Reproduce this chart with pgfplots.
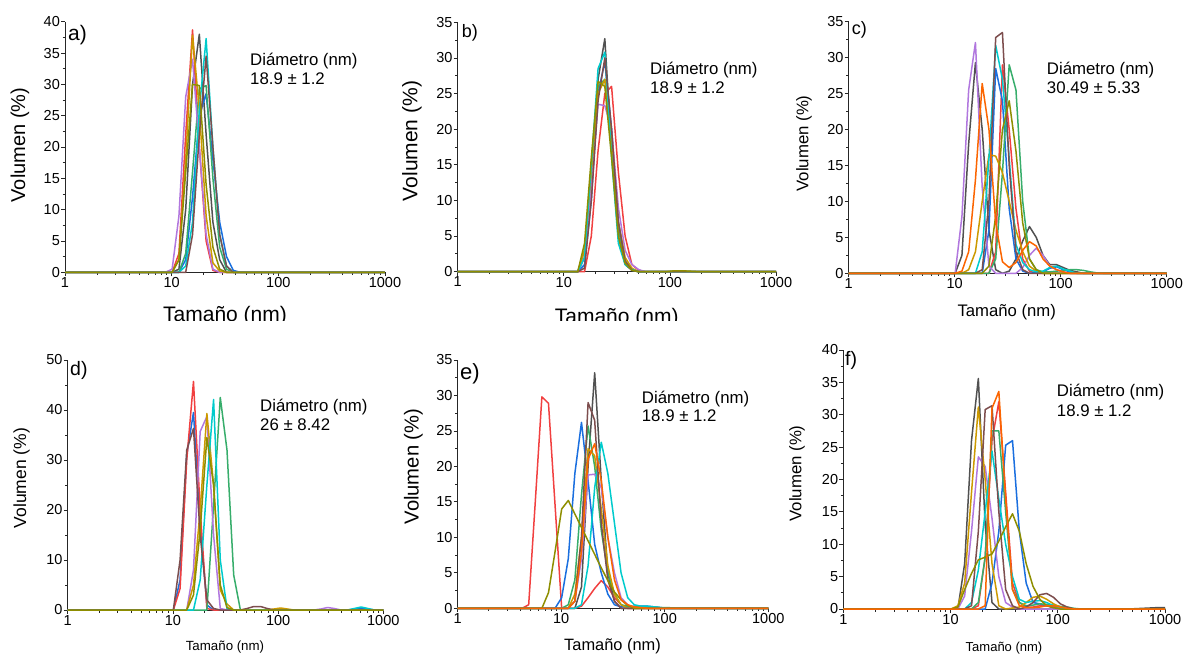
\documentclass[border=0pt]{standalone}
\usepackage{fontspec}
\setmainfont{Liberation Sans}
\usepackage{pgfplots}
\pgfplotsset{compat=1.18}
\definecolor{cGray}{HTML}{515151}
\definecolor{cRed}{HTML}{F14040}
\definecolor{cBlue}{HTML}{1A6FDF}
\definecolor{cGreen}{HTML}{37AD6B}
\definecolor{cPurple}{HTML}{B177DE}
\definecolor{cGold}{HTML}{CC9900}
\definecolor{cCyan}{HTML}{00CBCC}
\definecolor{cBrown}{HTML}{7D4E4E}
\definecolor{cOlive}{HTML}{8E8E00}
\definecolor{cOrange}{HTML}{FB6501}
\newcommand{\fs}[1]{\fontsize{#1}{#1}\selectfont}
\pgfkeys{/pgf/number format/assume math mode=true}
\pgfplotsset{
  every axis/.append style={
    xmode=log, xmin=1, xmax=1000, ymin=0,
    axis lines=left, axis line style={-, line width=0.9pt, black!85},
    scale only axis, clip=false, anchor=south west,
    xtick={1,10,100,1000}, xticklabels={1,10,100,1000},
    minor xtick={2,3,4,5,6,7,8,9,20,30,40,50,60,70,80,90,200,300,400,500,600,700,800,900},
    tick align=outside, major tick length=4pt, minor tick length=2.5pt,
    tick style={black!85, line width=0.8pt},
    tick label style={font=\fs{14.5}},
    yticklabel style={inner sep=1pt},
    xticklabel style={inner sep=1pt},
  },
  every axis plot/.append style={line width=1.5pt, line join=round, mark=none},
}
\begin{document}
\begin{tikzpicture}
\path[use as bounding box] (0pt,0pt) rectangle (1184pt,654pt);
% ---------------- a ----------------
\begin{axis}[at={(65pt,381.7pt)}, width=320pt, height=250.6pt, ymax=40, ytick={0,5,...,40}, minor y tick num=1]
\addplot[cGray] coordinates {(1,0)(10.10,0)(11.70,0.5)(13.54,10)(15.69,30)(18.17,38)(21.04,22)(24.36,8)(28.21,2)(32.67,0)(1000,0)};
\addplot[cRed] coordinates {(1,0)(10.10,0)(11.70,3)(13.54,22)(15.69,38.7)(18.17,20)(21.04,5)(24.36,0.3)(28.21,0)(1000,0)};
\addplot[cBlue] coordinates {(1,0)(11.70,0)(13.54,2)(15.69,12)(18.17,25)(21.04,28.5)(24.36,18)(28.21,8)(32.67,2.5)(37.84,0.3)(43.82,0)(1000,0)};
\addplot[cGreen] coordinates {(1,0)(11.70,0)(13.54,3)(15.69,16)(18.17,29.3)(21.04,29.8)(24.36,15)(28.21,4)(32.67,0.5)(37.84,0)(1000,0)};
\addplot[cPurple] coordinates {(1,0)(8.721,0)(10.10,0.5)(11.70,9)(13.54,28)(15.69,34)(18.17,20)(21.04,6)(24.36,0.5)(28.21,0)(1000,0)};
\addplot[cGold] coordinates {(1,0)(10.10,0)(11.70,2)(13.54,18)(15.69,37.8)(18.17,26)(21.04,9)(24.36,1.5)(28.21,0.2)(32.67,0)(1000,0)};
\addplot[cCyan] coordinates {(1,0)(11.70,0)(13.54,1)(15.69,8)(18.17,26)(21.04,37.3)(24.36,20)(28.21,6)(32.67,1)(37.84,0)(1000,0)};
\addplot[cBrown] coordinates {(1,0)(13.54,0)(15.69,6)(18.17,22)(21.04,34.5)(24.36,20)(28.21,6)(32.67,1)(37.84,0)(1000,0)};
\addplot[cOlive] coordinates {(1,0)(10.10,0)(11.70,2)(13.54,16)(15.69,30)(18.17,29.8)(21.04,14)(24.36,4)(28.21,0.5)(32.67,0)(1000,0)};
\end{axis}
% ---------------- b ----------------
\begin{axis}[at={(457.7pt,382.3pt)}, width=318.3pt, height=249.4pt, ymax=35, ytick={0,5,...,35}, minor y tick num=1]
\addplot[cGray] coordinates {(1,0)(13.54,0)(15.69,2)(18.17,12)(21.04,27)(24.36,32.7)(28.21,17)(32.67,5)(37.84,1)(43.82,0.2)(50.75,0)(1000,0)};
\addplot[cRed] coordinates {(1,0)(15.69,0)(18.17,5)(21.04,17)(24.36,25)(28.21,26)(32.67,14)(37.84,5)(43.82,1)(50.75,0.2)(58.77,0)(1000,0)};
\addplot[cBlue] coordinates {(1,0)(13.54,0)(15.69,1)(18.17,10)(21.04,25)(24.36,29.5)(28.21,20)(32.67,7)(37.84,1.5)(43.82,0.3)(50.75,0)(1000,0)};
\addplot[cGreen] coordinates {(1,0)(13.54,0)(15.69,3)(18.17,14)(21.04,26)(24.36,27)(28.21,18)(32.67,6)(37.84,1.5)(43.82,0.2)(50.75,0)(1000,0)};
\addplot[cPurple] coordinates {(1,0)(13.54,0)(15.69,2)(18.17,12)(21.04,23.5)(24.36,23.3)(28.21,20)(32.67,9)(37.84,3)(43.82,1)(50.75,0.3)(58.77,0)(1000,0)};
\addplot[cGold] coordinates {(1,0)(13.54,0)(15.69,3)(18.17,14)(21.04,25)(24.36,27)(28.21,19)(32.67,7)(37.84,2)(43.82,0.5)(50.75,0)(1000,0)};
\addplot[cCyan] coordinates {(1,0)(13.54,0)(15.69,2)(18.17,15)(21.04,28.5)(24.36,30.8)(28.21,16)(32.67,4)(37.84,1)(43.82,0.3)(50.75,0)(1000,0)};
\addplot[cBrown] coordinates {(1,0)(13.54,0)(15.69,0.5)(18.17,10)(21.04,24)(24.36,30)(28.21,20)(32.67,7)(37.84,1.5)(43.82,0.2)(50.75,0)(1000,0)};
\addplot[cOlive] coordinates {(1,0)(13.54,0)(15.69,4)(18.17,16)(21.04,26.7)(24.36,26)(28.21,16)(32.67,5)(37.84,1.2)(43.82,0.2)(50.75,0)(91.28,0)(105.7,0.1)(141.8,0.1)(190.1,0)(1000,0)};
\end{axis}
% ---------------- c ----------------
\begin{axis}[at={(848.7pt,380.7pt)}, width=318pt, height=251.6pt, ymax=35, ytick={0,5,...,35}, minor y tick num=1]
\addplot[cGray] coordinates {(1,0)(10.10,0)(11.70,2.5)(13.54,18)(15.69,29.3)(18.17,20)(21.04,6)(24.36,0.5)(28.21,0)(32.67,0.3)(37.84,2)(43.82,4.5)(50.75,6.5)(58.77,5)(68.06,2.5)(78.82,1.2)(91.28,1.2)(105.7,0.8)(122.4,0.4)(141.8,0.2)(164.2,0)(1000,0)};
\addplot[cRed] coordinates {(1,0)(21.04,0)(24.36,3)(28.21,29)(32.67,20)(37.84,9)(43.82,2)(50.75,0.3)(58.77,0)(1000,0)};
\addplot[cBlue] coordinates {(1,0)(18.17,0)(21.04,6)(24.36,28.5)(28.21,24)(32.67,9)(37.84,2)(43.82,0.3)(50.75,0)(68.06,0.2)(78.82,0.7)(91.28,0.9)(105.7,0.5)(122.4,0.2)(141.8,0)(1000,0)};
\addplot[cGreen] coordinates {(1,0)(21.04,0)(24.36,2)(28.21,14)(32.67,29)(37.84,25.5)(43.82,10)(50.75,2)(58.77,0.5)(68.06,0.2)(78.82,0.2)(91.28,0.3)(105.7,0.4)(122.4,0.5)(141.8,0.5)(164.2,0.4)(190.1,0.2)(220.2,0.05)(255,0)(1000,0)};
\addplot[cPurple] coordinates {(1,0)(10.10,0)(11.70,7.9)(13.54,25.5)(15.69,32.1)(18.17,12)(21.04,1)(24.36,0)(37.84,0)(43.82,0.8)(50.75,2.5)(58.77,3.5)(68.06,2.5)(78.82,1)(91.28,0.5)(105.7,0.2)(122.4,0)(1000,0)};
\addplot[cGold] coordinates {(1,0)(11.70,0)(13.54,0.5)(15.69,3)(18.17,10)(21.04,16.5)(24.36,16.3)(28.21,14)(32.67,10)(37.84,6)(43.82,3)(50.75,1)(58.77,0.3)(68.06,0)(1000,0)};
\addplot[cCyan] coordinates {(1,0)(15.69,0)(18.17,3)(21.04,16)(24.36,31.7)(28.21,27)(32.67,16)(37.84,4)(43.82,1.5)(50.75,0.5)(58.77,0.2)(68.06,0.3)(78.82,0.8)(91.28,1)(105.7,0.6)(122.4,0.3)(141.8,0)(1000,0)};
\addplot[cBrown] coordinates {(1,0)(15.69,0)(18.17,0.5)(21.04,10)(24.36,32.8)(28.21,33.5)(32.67,15)(37.84,3)(43.82,0.5)(50.75,0)(1000,0)};
\addplot[cOlive] coordinates {(1,0)(18.17,0)(21.04,1)(24.36,8)(28.21,20)(32.67,24)(37.84,17)(43.82,7)(50.75,2)(58.77,0.5)(68.06,0)(1000,0)};
\addplot[cOrange] coordinates {(1,0)(10.10,0)(11.70,0.3)(13.54,3)(15.69,13)(18.17,26.4)(21.04,20)(24.36,7)(28.21,1.6)(32.67,0.8)(37.84,1.5)(43.82,3.2)(50.75,4.4)(58.77,3.8)(68.06,2)(78.82,1)(91.28,0.5)(105.7,0.2)(122.4,0)(1000,0)};
\end{axis}
% ---------------- d ----------------
\begin{axis}[at={(67.7pt,44pt)}, width=315.6pt, height=250pt, ymax=50, ytick={0,10,...,50}, minor y tick num=1]
\addplot[cBlue] coordinates {(1,0)(10.10,0)(11.70,6)(13.54,31)(15.69,39.5)(18.17,17)(21.04,1)(24.36,0)(458.7,0)(531.2,0.2)(615.1,0.4)(712.4,0.2)(825,0)(1000,0)};
\addplot[cRed] coordinates {(1,0)(10.10,0)(11.70,4.3)(13.54,30)(15.69,45.7)(18.17,20)(21.04,0.3)(24.36,0)(1000,0)};
\addplot[cGreen] coordinates {(1,0)(21.04,0)(24.36,21)(28.21,42.5)(32.67,32)(37.84,7)(43.82,0)(1000,0)};
\addplot[cPurple] coordinates {(1,0)(13.54,0)(15.69,8)(18.17,35.7)(21.04,38.7)(24.36,15)(28.21,0.3)(32.67,0)(220.2,0)(255,0.2)(295.3,0.5)(342,0.3)(396.1,0)(1000,0)};
\addplot[cGold] coordinates {(1,0)(13.54,0)(15.69,5)(18.17,20)(21.04,39.3)(24.36,25)(28.21,4)(32.67,1.2)(37.84,0)(78.82,0)(91.28,0.2)(105.7,0.4)(122.4,0.2)(141.8,0)(1000,0)};
\addplot[cCyan] coordinates {(1,0)(15.69,0)(18.17,6)(21.04,25)(24.36,42.1)(28.21,10)(32.67,0.3)(37.84,0)(458.7,0)(531.2,0.3)(615.1,0.6)(712.4,0.3)(825,0)(1000,0)};
\addplot[cBrown] coordinates {(1,0)(10.10,0)(11.70,10)(13.54,32)(15.69,36.3)(18.17,15)(21.04,2)(24.36,0.3)(28.21,0)(43.82,0)(50.75,0.3)(58.77,0.7)(68.06,0.7)(78.82,0.3)(91.28,0)(1000,0)};
\addplot[cOlive] coordinates {(1,0)(13.54,0)(15.69,3)(18.17,16)(21.04,34.5)(24.36,25)(28.21,5)(32.67,0.5)(37.84,0)(1000,0)};
\end{axis}
% ---------------- e ----------------
\begin{axis}[at={(457.7pt,45.7pt)}, width=310.6pt, height=248.3pt, ymax=35, ytick={0,5,...,35}, minor y tick num=1]
\addplot[cGray] coordinates {(1,0)(13.54,0)(15.69,3)(18.17,20)(21.04,33.2)(24.36,18)(28.21,5)(32.67,1)(37.84,0)(1000,0)};
\addplot[cRed] coordinates {(1,0)(4.187,0)(4.849,0.5)(5.615,15)(6.503,29.8)(7.531,28.9)(8.721,14.5)(10.10,0)(13.54,0)(15.69,0.3)(18.17,1.5)(21.04,2.8)(24.36,3.9)(28.21,3)(32.67,1.5)(37.84,0.5)(43.82,0)(1000,0)};
\addplot[cBlue] coordinates {(1,0)(8.721,0)(10.10,1.5)(11.70,7)(13.54,19)(15.69,26.2)(18.17,18)(21.04,9)(24.36,5)(28.21,2)(32.67,0.5)(37.84,0.2)(43.82,0.2)(50.75,0.3)(58.77,0.3)(68.06,0.3)(78.82,0.2)(91.28,0.1)(105.7,0)(1000,0)};
\addplot[cGreen] coordinates {(1,0)(10.10,0)(11.70,0.5)(13.54,4)(15.69,16)(18.17,25.7)(21.04,20)(24.36,11)(28.21,5)(32.67,2)(37.84,0.5)(43.82,0.3)(50.75,0.2)(58.77,0.2)(68.06,0.2)(78.82,0.15)(91.28,0.1)(105.7,0.1)(122.4,0.05)(141.8,0)(1000,0)};
\addplot[cPurple] coordinates {(1,0)(11.70,0)(13.54,1)(15.69,7)(18.17,18.8)(21.04,18.9)(24.36,17)(28.21,10)(32.67,5)(37.84,1.5)(43.82,0.5)(50.75,0)(1000,0)};
\addplot[cGold] coordinates {(1,0)(11.70,0)(13.54,2)(15.69,10)(18.17,22.5)(21.04,21.5)(24.36,14)(28.21,6)(32.67,2)(37.84,0.5)(43.82,0)(1000,0)};
\addplot[cCyan] coordinates {(1,0)(13.54,0)(15.69,0.5)(18.17,6)(21.04,17)(24.36,23.4)(28.21,19)(32.67,12)(37.84,5)(43.82,1.5)(50.75,0.5)(58.77,0.3)(68.06,0.3)(78.82,0.2)(91.28,0.1)(105.7,0)(1000,0)};
\addplot[cBrown] coordinates {(1,0)(11.70,0)(13.54,1)(15.69,10)(18.17,29)(21.04,26.5)(24.36,12)(28.21,4)(32.67,1)(37.84,0)(1000,0)};
\addplot[cOlive] coordinates {(1,0)(6.503,0)(7.531,2.2)(8.721,8)(10.10,14)(11.70,15.2)(13.54,13.3)(15.69,11.4)(18.17,9.5)(21.04,7.6)(24.36,5.7)(28.21,3.9)(32.67,2.3)(37.84,1.2)(43.82,0.4)(50.75,0)(1000,0)};
\addplot[cOrange] coordinates {(1,0)(11.70,0)(13.54,1)(15.69,8)(18.17,21)(21.04,23.2)(24.36,18)(28.21,10)(32.67,4)(37.84,1.2)(43.82,0.5)(50.75,0.2)(58.77,0.1)(68.06,0)(1000,0)};
\end{axis}
% ---------------- f ----------------
\begin{axis}[at={(843.3pt,45pt)}, width=321.7pt, height=259pt, ymax=40, ytick={0,5,...,40}, minor y tick num=1]
\addplot[cGray] coordinates {(1,0)(11.70,0)(13.54,7)(15.69,26)(18.17,35.6)(21.04,13)(24.36,1)(28.21,0)(458.7,0)(615.1,0.1)(825,0.2)(1000,0.2)};
\addplot[cRed] coordinates {(1,0)(15.69,0)(18.17,0.5)(21.04,8)(24.36,26)(28.21,32)(32.67,18)(37.84,4)(43.82,1)(50.75,0.3)(58.77,0.3)(68.06,0.5)(78.82,0.5)(91.28,0.4)(105.7,0.2)(122.4,0)(1000,0)};
\addplot[cBlue] coordinates {(1,0)(21.04,0)(24.36,4)(28.21,12)(32.67,25.3)(37.84,26)(43.82,12)(50.75,4)(58.77,1)(68.06,0.8)(78.82,0.5)(91.28,0.2)(105.7,0)(1000,0)};
\addplot[cGreen] coordinates {(1,0)(15.69,0)(18.17,1)(21.04,8)(24.36,27.5)(28.21,27.5)(32.67,15)(37.84,3)(43.82,1)(50.75,0.5)(58.77,0.6)(68.06,0.8)(78.82,0.7)(91.28,0.6)(105.7,0.4)(122.4,0.3)(141.8,0.1)(164.2,0)(1000,0)};
\addplot[cPurple] coordinates {(1,0)(11.70,0)(13.54,2)(15.69,12)(18.17,23.5)(21.04,22)(24.36,14)(28.21,5)(32.67,1)(37.84,0.3)(43.82,0)(1000,0)};
\addplot[cGold] coordinates {(1,0)(10.10,0)(11.70,0.5)(13.54,4)(15.69,18)(18.17,31.2)(21.04,20)(24.36,7)(28.21,0.5)(32.67,0)(43.82,0.3)(50.75,1)(58.77,1.8)(68.06,2)(78.82,1.5)(91.28,0.8)(105.7,0.3)(122.4,0)(1000,0)};
\addplot[cCyan] coordinates {(1,0)(13.54,0)(15.69,1)(18.17,6)(21.04,15)(24.36,24.4)(28.21,17)(32.67,10)(37.84,5)(43.82,1.5)(50.75,1)(58.77,1.2)(68.06,1.3)(78.82,1)(91.28,0.5)(105.7,0.2)(122.4,0)(1000,0)};
\addplot[cBrown] coordinates {(1,0)(13.54,0)(15.69,0.5)(18.17,12)(21.04,30.8)(24.36,31.4)(28.21,15)(32.67,3)(37.84,0.5)(43.82,0)(50.75,0.3)(58.77,1)(68.06,2.2)(78.82,2.4)(91.28,1.8)(105.7,0.8)(122.4,0.3)(141.8,0)(1000,0)};
\addplot[cOlive] coordinates {(1,0)(10.10,0)(11.70,0.3)(13.54,3)(15.69,5.5)(18.17,7.6)(21.04,8)(24.36,8.5)(28.21,10.5)(32.67,12.7)(37.84,14.7)(43.82,12)(50.75,7)(58.77,3.5)(68.06,1.5)(78.82,0.5)(91.28,0.2)(105.7,0)(1000,0)};
\addplot[cOrange] coordinates {(1,0)(18.17,0)(21.04,0.5)(24.36,31)(28.21,33.6)(32.67,17)(37.84,3)(43.82,0.5)(50.75,0.2)(58.77,0.2)(68.06,0.3)(78.82,0.5)(91.28,0.5)(105.7,0.3)(122.4,0.1)(141.8,0)(1000,0)};
\end{axis}
% ---------------- labels ----------------
\begin{scope}
\clip (0pt,333pt) rectangle (1184pt,400pt);
\node[font=\fs{21}, anchor=base, inner sep=0] at (225pt,332pt) {Tamaño (nm)};
\node[font=\fs{21}, anchor=base, inner sep=0] at (616.7pt,330.7pt) {Tamaño (nm)};
\end{scope}
\node[font=\fs{16.7}, anchor=base, inner sep=0] at (1006.7pt,337pt) {Tamaño (nm)};
\node[font=\fs{13.3}, anchor=base, inner sep=0] at (225pt,3.5pt) {Tamaño (nm)};
\node[font=\fs{16.4}, anchor=base, inner sep=0] at (612.5pt,3.6pt) {Tamaño (nm)};
\node[font=\fs{13}, anchor=base, inner sep=0] at (1004pt,3pt) {Tamaño (nm)};
\node[font=\fs{20}, rotate=90, inner sep=0] at (20pt,509pt) {Volumen (\%)};
\node[font=\fs{21}, rotate=90, inner sep=0] at (412pt,513pt) {Volumen (\%)};
\node[font=\fs{16.8}, rotate=90, inner sep=0] at (804pt,510.5pt) {Volumen (\%)};
\node[font=\fs{17.5}, rotate=90, inner sep=0] at (21.5pt,176pt) {Volumen (\%)};
\node[font=\fs{20.2}, rotate=90, inner sep=0] at (413.5pt,187.5pt) {Volumen (\%)};
\node[font=\fs{16.8}, rotate=90, inner sep=0] at (797pt,180.5pt) {Volumen (\%)};
\node[font=\fs{21}, anchor=west, inner sep=0] at (68pt,619pt) {a)};
\node[font=\fs{18}, anchor=west, inner sep=0] at (461.7pt,621.5pt) {b)};
\node[font=\fs{18}, anchor=west, inner sep=0] at (851.7pt,624.5pt) {c)};
\node[font=\fs{19.5}, anchor=west, inner sep=0] at (70pt,284pt) {d)};
\node[font=\fs{22}, anchor=west, inner sep=0] at (460pt,280pt) {e)};
\node[font=\fs{19.5}, anchor=west, inner sep=0] at (845pt,294pt) {f)};
\node[font=\fs{16.8}, anchor=base west, inner sep=0] at (250pt,588.3pt) {Diámetro (nm)};
\node[font=\fs{16.8}, anchor=base west, inner sep=0] at (250pt,569pt) {18.9 ± 1.2};
\node[font=\fs{16.8}, anchor=base west, inner sep=0] at (650pt,579pt) {Diámetro (nm)};
\node[font=\fs{16.8}, anchor=base west, inner sep=0] at (650pt,560.7pt) {18.9 ± 1.2};
\node[font=\fs{16.8}, anchor=base west, inner sep=0] at (1046.7pt,579pt) {Diámetro (nm)};
\node[font=\fs{16.8}, anchor=base west, inner sep=0] at (1046.7pt,560.7pt) {30.49 ± 5.33};
\node[font=\fs{16.8}, anchor=base west, inner sep=0] at (260pt,242.3pt) {Diámetro (nm)};
\node[font=\fs{16.8}, anchor=base west, inner sep=0] at (260pt,223pt) {26 ± 8.42};
\node[font=\fs{16.8}, anchor=base west, inner sep=0] at (641.7pt,250.7pt) {Diámetro (nm)};
\node[font=\fs{16.8}, anchor=base west, inner sep=0] at (641.7pt,232.3pt) {18.9 ± 1.2};
\node[font=\fs{16.8}, anchor=base west, inner sep=0] at (1056.7pt,257.3pt) {Diámetro (nm)};
\node[font=\fs{16.8}, anchor=base west, inner sep=0] at (1056.7pt,237.3pt) {18.9 ± 1.2};
\end{tikzpicture}
\end{document}
